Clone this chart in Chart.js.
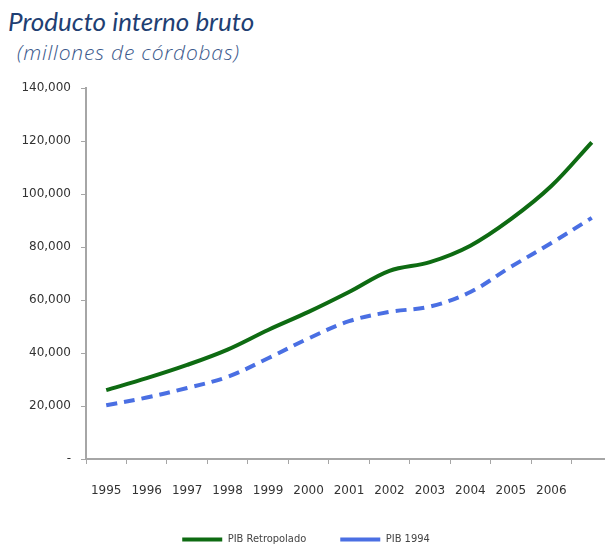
<!DOCTYPE html>
<html>
<head>
<meta charset="utf-8">
<script src="https://cdn.jsdelivr.net/npm/chart.js@4"></script>
<style>
  html, body { margin: 0; padding: 0; background: #fff; overflow: hidden; width: 605px; height: 550px; }
  #title { position: absolute; left: 8px; top: 5px; font: italic 26px Lato, sans-serif; color: #1f3f73; }
  #subtitle { position: absolute; left: 17px; top: 38px; font: italic 300 21px "Open Sans", sans-serif; letter-spacing: 0.8px; color: #3b5a8c; }
  #wrap { position: absolute; left: 0; top: 0; width: 612px; height: 550px; }
</style>
</head>
<body>
<div id="title">Producto interno bruto</div>
<div id="subtitle">(millones de córdobas)</div>
<div id="wrap"><canvas id="pibChart"></canvas></div>
<script>
// years on the axis (last point has no label in the original)
const years = ['1995', '1996', '1997', '1998', '1999', '2000', '2001', '2002', '2003', '2004', '2005', '2006', ''];
const pibRetropolado = [26000, 30500, 35500, 41300, 48700, 55500, 63000, 71000, 74300, 80500, 90500, 103000, 119500];
const pib1994 = [20300, 23200, 26800, 31000, 38000, 45500, 52000, 55500, 57500, 63000, 72500, 81500, 91000];
const yTicks = [0, 20000, 40000, 60000, 80000, 100000, 120000, 140000];

const tickFont = { family: 'DejaVu Sans', size: 12 };

const pibChart = new Chart(
  document.getElementById('pibChart').getContext('2d'),
  {
    type: 'line',
    data: {
      labels: years,
      datasets: [
        {
          label: 'PIB Retropolado',
          data: pibRetropolado,
          borderColor: '#0e6b12',
          backgroundColor: '#0e6b12',
          borderWidth: 4,
          pointRadius: 0,
          tension: 0.35,
          fill: false
        },
        {
          label: 'PIB 1994',
          data: pib1994,
          borderColor: '#4a6fe3',
          backgroundColor: '#4a6fe3',
          borderWidth: 4,
          borderDash: [11, 7],
          pointRadius: 0,
          tension: 0.35,
          fill: false
        }
      ]
    },
    options: {
      responsive: true,
      maintainAspectRatio: false,
      animation: false,
      // small negative bottom padding so the widely spaced legend sits low
      layout: { padding: { top: 88, left: 0, right: 0, bottom: -5 } },
      plugins: {
        legend: {
          position: 'bottom',
          labels: {
            usePointStyle: true,
            pointStyle: 'line',
            pointStyleWidth: 40,
            color: '#444',
            font: { family: 'DejaVu Sans Condensed, DejaVu Sans', size: 11 },
            padding: 34,
            boxHeight: 11
          }
        },
        tooltip: { enabled: false }
      },
      scales: {
        x: {
          offset: true,
          // labels are clipped to the axis box, so keep it tall enough for them
          afterFit: (scale) => { scale.height = 41; },
          border: { color: '#a6a6a6', width: 2 },
          grid: { offset: true, drawOnChartArea: false, tickLength: 5, color: '#a6a6a6', lineWidth: 1 },
          ticks: { color: '#333', font: tickFont, padding: 20, maxRotation: 0, autoSkip: false }
        },
        y: {
          min: 0,
          max: 140000,
          afterFit: (scale) => { scale.width = 86; },
          afterBuildTicks: (scale) => { scale.ticks = yTicks.map(v => ({ value: v })); },
          border: { color: '#a6a6a6', width: 2 },
          grid: { drawOnChartArea: false, tickLength: 5, color: '#a6a6a6', lineWidth: 1 },
          ticks: {
            color: '#333',
            font: tickFont,
            padding: 10,
            callback: (v) => v === 0 ? '-' : v.toLocaleString('en-US')
          }
        }
      }
    }
  }
);
</script>
</body>
</html>
